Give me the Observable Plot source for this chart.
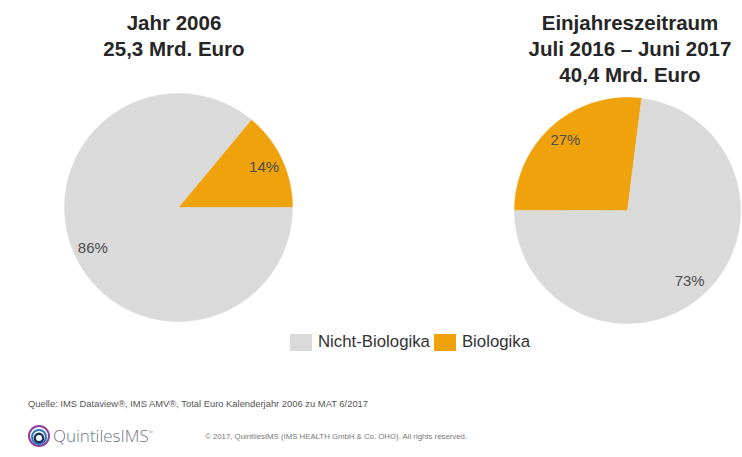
<!DOCTYPE html>
<html><head><meta charset="utf-8">
<script src="https://cdn.jsdelivr.net/npm/d3@7"></script>
<script src="https://cdn.jsdelivr.net/npm/@observablehq/plot@0.6"></script>
<style>
body{margin:0;width:742px;height:457px;position:relative;overflow:hidden;background:#fff;font-family:"Liberation Sans",Arial,sans-serif;}
.title{position:absolute;text-align:center;font-weight:bold;font-size:20.5px;line-height:26px;color:#262626;}
.pie{position:absolute;}
#legend{position:absolute;left:290px;top:332px;display:flex;align-items:center;font-size:16.8px;color:#333;}
#legend .sw{width:22px;height:17px;display:inline-block;margin-right:6px;}
#legend .item{display:flex;align-items:center;margin-right:4px;}
#source{position:absolute;left:28px;top:398px;font-size:9.4px;color:#555;white-space:nowrap;}
#logo{position:absolute;left:28px;top:424px;display:flex;align-items:center;}
#logo .name{font-size:17px;color:#6b7785;font-weight:300;margin-left:3px;font-family:"Open Sans","Liberation Sans",sans-serif;}
#logo sup{font-size:6px;}
#copy{position:absolute;left:205px;top:432px;font-size:7.8px;color:#777;white-space:nowrap;}
</style></head><body>
<div id="t0" class="title" style="left:74px;width:200px;top:10px;"></div>
<div id="t1" class="title" style="left:480px;width:300px;top:10px;"></div>
<div id="p0" class="pie" style="left:62px;top:91px;"></div>
<div id="p1" class="pie" style="left:512px;top:95px;"></div>
<div id="legend"></div>
<div id="source"></div>
<div id="logo">
<svg width="22" height="22" viewBox="0 0 22 22">
<circle cx="11" cy="11" r="10" fill="none" stroke="#8e3f9e" stroke-width="2"/>
<circle cx="11" cy="12" r="7" fill="none" stroke="#2c78b8" stroke-width="2"/>
<circle cx="11" cy="13" r="4.2" fill="none" stroke="#1d2f5a" stroke-width="2.4"/>
</svg>
<span class="name">QuintilesIMS<sup>™</sup></span>
</div>
<div id="copy"></div>
<script>
const categories = ["Biologika", "Nicht-Biologika"];
const colors = ["#efa20c", "#dadada"];
const legendOrder = ["Nicht-Biologika", "Biologika"];
const titles2006 = ["Jahr 2006", "25,3 Mrd. Euro"];
const titles2017 = ["Einjahreszeitraum", "Juli 2016 – Juni 2017", "40,4 Mrd. Euro"];
const shares2006 = [14, 86];
const shares2017 = [27, 73];
const firstSliceAngle = [39.6, 270];
const sourceNote = "Quelle: IMS Dataview®, IMS AMV®, Total Euro Kalenderjahr 2006 zu MAT 6/2017";
const copyNote = "© 2017, QuintilesIMS (IMS HEALTH GmbH & Co. OHG). All rights reserved.";

function slices(shares, start) {
  const total = d3.sum(shares);
  let acc = 0;
  const polys = [], labels = [];
  shares.forEach((v, i) => {
    const a0 = start + acc / total * 360;
    acc += v;
    const a1 = start + acc / total * 360;
    const n = Math.max(2, Math.ceil(a1 - a0));
    polys.push({category: categories[i], x: 0, y: 0});
    for (let k = 0; k <= n; k++) {
      const t = (a0 + (a1 - a0) * k / n) * Math.PI / 180;
      polys.push({category: categories[i], x: Math.sin(t), y: Math.cos(t)});
    }
    const m = (a0 + a1) / 2 * Math.PI / 180;
    labels.push({label: v + "%", x: 0.83 * Math.sin(m), y: 0.83 * Math.cos(m)});
  });
  return {polys, labels};
}

function pie(shares, start) {
  const {polys, labels} = slices(shares, start);
  return Plot.plot({
    width: 232, height: 232, margin: 2,
    style: {fontFamily: "Liberation Sans, Arial, sans-serif", background: "transparent"},
    x: {domain: [-1, 1], axis: null},
    y: {domain: [-1, 1], axis: null},
    color: {domain: categories, range: colors},
    marks: [
      Plot.line(polys, {x: "x", y: "y", z: "category", fill: "category", stroke: "category", strokeWidth: 0.5, curve: "linear-closed"}),
      Plot.text(labels, {x: "x", y: "y", text: "label", fontSize: 15, fill: "#4d4d4d"})
    ]
  });
}

document.getElementById("t0").innerHTML = titles2006.join("<br>");
document.getElementById("t1").innerHTML = titles2017.join("<br>");
document.getElementById("p0").appendChild(pie(shares2006, firstSliceAngle[0]));
document.getElementById("p1").appendChild(pie(shares2017, firstSliceAngle[1]));
const lg = document.getElementById("legend");
legendOrder.forEach(c => {
  const it = document.createElement("div");
  it.className = "item";
  it.innerHTML = `<span class="sw" style="background:${colors[categories.indexOf(c)]}"></span>${c}`;
  lg.appendChild(it);
});
document.getElementById("source").textContent = sourceNote;
document.getElementById("copy").textContent = copyNote;
</script>
</body></html>
